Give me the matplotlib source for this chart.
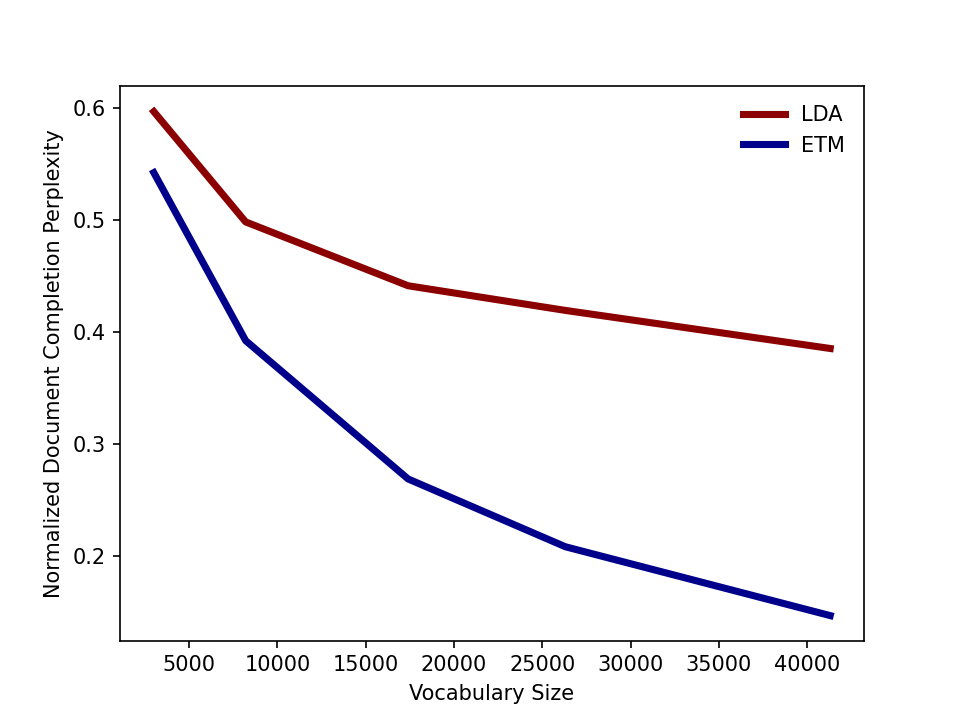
import matplotlib
matplotlib.use("Agg")
import matplotlib.pyplot as plt

# vocabulary sizes and normalized perplexities
vocab_sizes = [3000, 8200, 17400, 26300, 41300]
lda_ppl = [0.5965, 0.498, 0.441, 0.419, 0.385]
etm_ppl = [0.542, 0.392, 0.2685, 0.208, 0.1465]

fig = plt.figure(figsize=(6.4, 4.8), dpi=150)
ax = fig.add_subplot(111)
ax.plot(vocab_sizes, lda_ppl, color="darkred", linewidth=3.4, label="LDA")
ax.plot(vocab_sizes, etm_ppl, color="darkblue", linewidth=3.4, label="ETM")
ax.set_xlabel("Vocabulary Size")
ax.set_ylabel("Normalized Document Completion Perplexity")
ax.legend(frameon=False)

fig.savefig("out.png", dpi=150)
